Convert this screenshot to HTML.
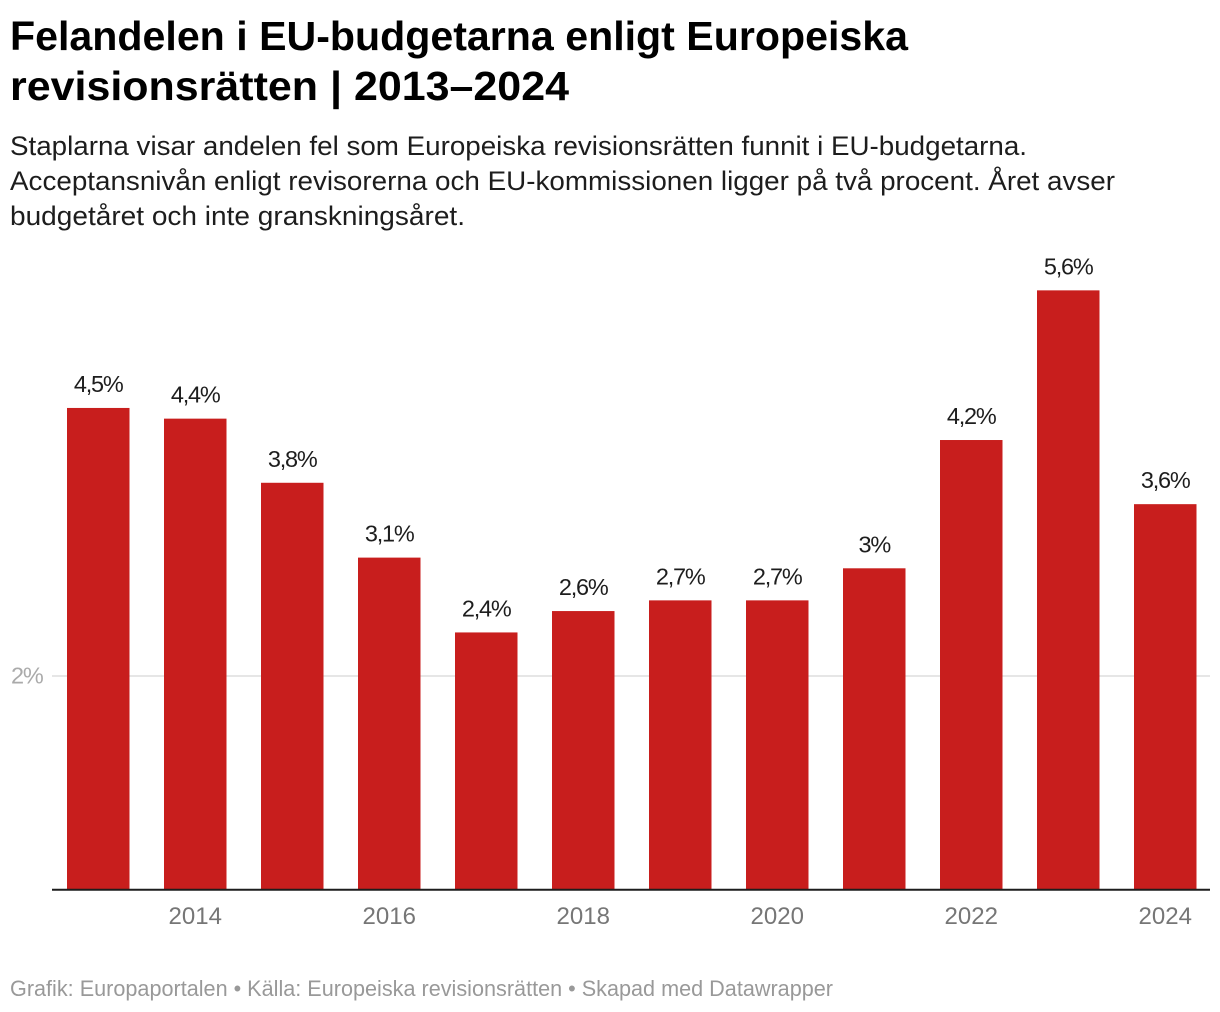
<!DOCTYPE html>
<html lang="sv">
<head>
<meta charset="utf-8">
<title>Felandelen i EU-budgetarna</title>
<style>
html,body{margin:0;padding:0;background:#fff;width:1220px;height:1012px;overflow:hidden}
svg{display:block;font-family:"Liberation Sans",Arial,sans-serif}
</style>
</head>
<body>
<svg id="chart" width="1220" height="1012" viewBox="0 0 1220 1012" xmlns="http://www.w3.org/2000/svg">
  <rect x="0" y="0" width="1220" height="1012" fill="#fff"/>
  <g fill="#000" font-weight="700" font-size="41">
    <text x="10" y="50" textLength="898" lengthAdjust="spacingAndGlyphs">Felandelen i EU-budgetarna enligt Europeiska</text>
    <text x="10" y="100" textLength="559" lengthAdjust="spacingAndGlyphs">revisionsrätten | 2013–2024</text>
  </g>
  <g fill="#1d1d1d" font-size="27">
    <text x="10" y="155" textLength="1017" lengthAdjust="spacingAndGlyphs">Staplarna visar andelen fel som Europeiska revisionsrätten funnit i EU-budgetarna.</text>
    <text x="10" y="190" textLength="1105" lengthAdjust="spacingAndGlyphs">Acceptansnivån enligt revisorerna och EU-kommissionen ligger på två procent. Året avser</text>
    <text x="10" y="225" textLength="455" lengthAdjust="spacingAndGlyphs">budgetåret och inte granskningsåret.</text>
  </g>
  <g id="grid"></g>
  <g id="bars"></g>
  <g id="values"></g>
  <line x1="52" x2="1210" y1="889.8" y2="889.8" stroke="#1d1d1d" stroke-width="2"/>
  <g id="xticks"></g>
  <text x="10" y="996" font-size="22" fill="#999" textLength="823" lengthAdjust="spacingAndGlyphs">Grafik: Europaportalen • Källa: Europeiska revisionsrätten • Skapad med Datawrapper</text>
</svg>
<script>
var years = [2013, 2014, 2015, 2016, 2017, 2018, 2019, 2020, 2021, 2022, 2023, 2024];
var errorRates = [4.5, 4.4, 3.8, 3.1, 2.4, 2.6, 2.7, 2.7, 3, 4.2, 5.6, 3.6];
var yTicks = [2];
var xTickYears = [2014, 2016, 2018, 2020, 2022, 2024];

var NS = 'http://www.w3.org/2000/svg';
function yScale(v) { return 889 - v * 106.9; }
function xScale(year) { return 67 + (year - years[0]) * 97; }
var barWidth = 62.5;
function fmt(v) { return String(v).replace('.', ',') + '%'; }

var gridG = document.getElementById('grid');
var barsG = document.getElementById('bars');
var valuesG = document.getElementById('values');
var xG = document.getElementById('xticks');

yTicks.forEach(function (t) {
  var line = document.createElementNS(NS, 'line');
  
  
  line.setAttribute('x1', 52);
  line.setAttribute('x2', 1210);
  line.setAttribute('y1', yScale(t) + 0.8);
  line.setAttribute('y2', yScale(t) + 0.8);
  line.setAttribute('stroke', '#e6e6e6');
  line.setAttribute('stroke-width', 2);
  gridG.appendChild(line);
  var label = document.createElementNS(NS, 'text');
  
  
  label.setAttribute('x', 11);
  label.setAttribute('y', yScale(t) + 8.5);
  label.setAttribute('font-size', 23.5);
  label.setAttribute('letter-spacing', '-1.2');
  label.setAttribute('fill', '#aaa');
  label.textContent = t + '%';
  gridG.appendChild(label);
});

errorRates.forEach(function (v, i) {
  var x = xScale(years[i]);
  var top = yScale(v);
  var bar = document.createElementNS(NS, 'rect');
  
  
  bar.setAttribute('x', x);
  bar.setAttribute('y', top);
  bar.setAttribute('width', barWidth);
  bar.setAttribute('height', yScale(0) - top);
  bar.setAttribute('fill', '#c81e1d');
  barsG.appendChild(bar);
  var label = document.createElementNS(NS, 'text');
  
  
  label.setAttribute('x', x + barWidth / 2);
  label.setAttribute('y', top - 16);
  label.setAttribute('text-anchor', 'middle');
  label.setAttribute('font-size', 23.5);
  label.setAttribute('letter-spacing', '-1.2');
  label.setAttribute('fill', '#1d1d1d');
  label.textContent = fmt(v);
  valuesG.appendChild(label);
});

xTickYears.forEach(function (y) {
  var label = document.createElementNS(NS, 'text');
  
  
  label.setAttribute('x', xScale(y) + barWidth / 2);
  label.setAttribute('y', 924);
  label.setAttribute('text-anchor', 'middle');
  label.setAttribute('font-size', 24);
  label.setAttribute('fill', '#767676');
  label.textContent = y;
  xG.appendChild(label);
});
</script>
</body>
</html>
